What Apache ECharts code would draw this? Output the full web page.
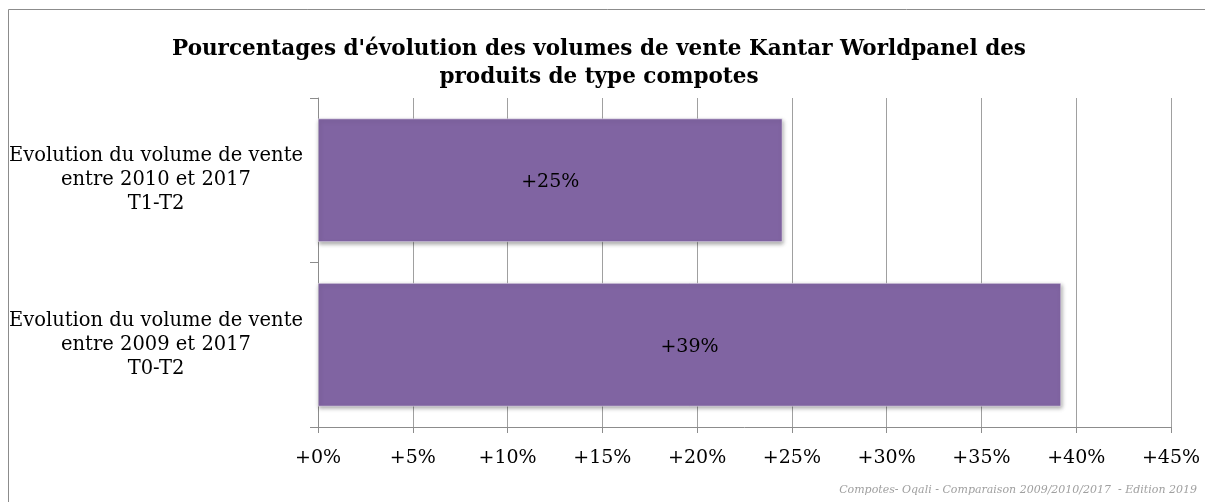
<!DOCTYPE html>
<html>
<head>
<meta charset="utf-8">
<script src="https://cdn.jsdelivr.net/npm/echarts@6/dist/echarts.min.js"></script>
<style>
html,body{margin:0;padding:0;background:#fff;}
#chart{width:1205px;height:502px;}
</style>
</head>
<body>
<div id="chart"></div>
<script>
// Categories listed bottom-to-top (ECharts category y axis starts at bottom)
const categories = [
  "Evolution du volume de vente\nentre 2009 et 2017\nT0-T2",
  "Evolution du volume de vente\nentre 2010 et 2017\nT1-T2"
];
const evolutionPct = [39.2, 24.5];
const xTicks = [0, 5, 10, 15, 20, 25, 30, 35, 40, 45];

const titleText = "Pourcentages d'évolution des volumes de vente Kantar Worldpanel des\nproduits de type compotes";
const footerText = "Compotes- Oqali - Comparaison 2009/2010/2017  - Edition 2019";

const FONT = "'DejaVu Serif', serif";
const chart = echarts.init(document.getElementById('chart'), null, {renderer: 'canvas'});
chart.setOption({
  animation: false,
  backgroundColor: '#fff',
  title: {
    text: titleText,
    left: 594,
    textAlign: 'center',
    top: 30,
    textStyle: {fontFamily: FONT, fontWeight: 'bold', fontSize: 21.5, color: '#000', lineHeight: 28}
  },
  graphic: [
    {type: 'rect', shape: {x: 8.5, y: 9.5, width: 1300, height: 600}, style: {fill: null, stroke: '#8c8c8c', lineWidth: 1}, silent: true},
    {type: 'text', right: 8, top: 485, style: {text: footerText, fill: '#a0a0a0', font: "italic 11px 'DejaVu Serif', serif", textAlign: 'right'}}
  ],
  grid: {left: 318, right: 34, top: 98, bottom: 75, containLabel: false},
  xAxis: {
    type: 'value',
    min: xTicks[0],
    max: xTicks[xTicks.length - 1],
    interval: xTicks[1] - xTicks[0],
    axisLine: {show: true, lineStyle: {color: '#8c8c8c', width: 1}},
    axisTick: {show: true, length: 6, lineStyle: {color: '#8c8c8c'}},
    splitLine: {show: true, lineStyle: {color: '#a0a0a0', width: 1}},
    axisLabel: {
      formatter: v => '+' + v + '%',
      fontFamily: FONT, fontSize: 19, color: '#000', margin: 22
    }
  },
  yAxis: {
    type: 'category',
    data: categories,
    axisLine: {show: true, lineStyle: {color: '#8c8c8c', width: 1}},
    axisTick: {show: true, length: 8, lineStyle: {color: '#8c8c8c'}},
    axisLabel: {
      fontFamily: FONT, fontSize: 19.5, color: '#000', lineHeight: 24,
      align: 'center', margin: 162, padding: [6, 0, 0, 0]
    }
  },
  series: [{
    type: 'bar',
    data: evolutionPct,
    barCategoryGap: '25%',
    itemStyle: {
      color: '#8064A2',
      borderColor: '#ffffff', borderWidth: 0.5,
      shadowBlur: 4, shadowOffsetX: 1, shadowOffsetY: 2, shadowColor: 'rgba(0,0,0,0.35)'
    },
    label: {
      show: true, position: 'inside', offset: [0, 2],
      formatter: p => '+' + Math.round(p.value) + '%',
      fontFamily: FONT, fontSize: 19, color: '#000'
    }
  }]
});
</script>
</body>
</html>
